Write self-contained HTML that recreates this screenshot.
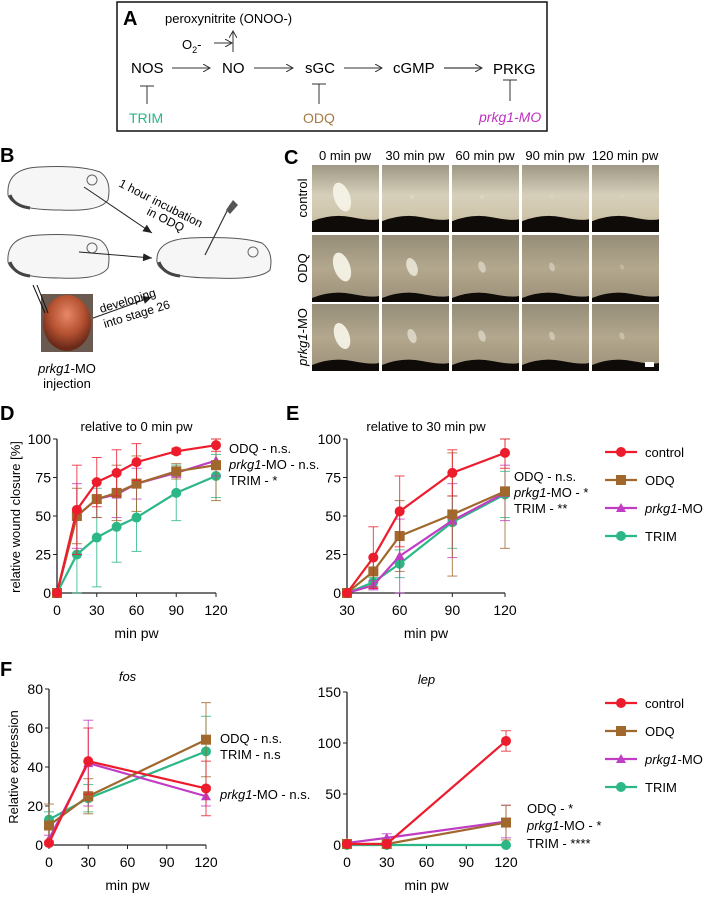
<!DOCTYPE html>
<html><head><meta charset="utf-8">
<style>
html,body{margin:0;padding:0;background:#fff;}
svg{display:block;font-family:"Liberation Sans",Arial,sans-serif;}
</style></head>
<body>
<svg id="fig" width="707" height="897" viewBox="0 0 707 897" xmlns="http://www.w3.org/2000/svg">
<defs>
<marker id="arr" markerWidth="8" markerHeight="8" refX="7" refY="4" orient="auto" markerUnits="userSpaceOnUse"><path d="M0,0 L7,4 L0,8" fill="none" stroke="#333" stroke-width="1"/></marker>
<marker id="arrf" markerWidth="10" markerHeight="8" refX="9" refY="4" orient="auto" markerUnits="userSpaceOnUse"><path d="M0,0 L9,4 L0,8 Z" fill="#222"/></marker>
<linearGradient id="tis" x1="0" y1="0" x2="0" y2="1"><stop offset="0" stop-color="#9d9885"/><stop offset="0.45" stop-color="#d6cfba"/><stop offset="0.75" stop-color="#cfc6ac"/><stop offset="1" stop-color="#b8ad92"/></linearGradient>
<linearGradient id="tis2" x1="0" y1="0" x2="0" y2="1"><stop offset="0" stop-color="#958d78"/><stop offset="0.5" stop-color="#b3a88e"/><stop offset="1" stop-color="#9c9078"/></linearGradient>
<radialGradient id="egg" cx="0.5" cy="0.35" r="0.6"><stop offset="0" stop-color="#e8876a"/><stop offset="0.6" stop-color="#b2502f"/><stop offset="1" stop-color="#6a2a1a"/></radialGradient>
</defs>

<!-- Panel A -->
<g>
<rect x="117" y="2" width="430" height="129" fill="none" stroke="#111" stroke-width="1.5"/>
<text x="123" y="25" font-size="20" font-weight="bold">A</text>
<text x="165" y="23" font-size="13">peroxynitrite (ONOO-)</text>
<text x="182" y="49" font-size="13">O<tspan font-size="9" dy="4">2</tspan><tspan dy="-4">-</tspan></text>
<line x1="214" y1="43" x2="232" y2="43" stroke="#333" marker-end="url(#arr)"/>
<line x1="233" y1="52" x2="233" y2="31" stroke="#333" marker-end="url(#arr)"/>
<text x="131" y="73" font-size="15">NOS</text>
<text x="222" y="73" font-size="15">NO</text>
<text x="305" y="73" font-size="15">sGC</text>
<text x="393" y="73" font-size="15">cGMP</text>
<text x="493" y="74" font-size="15">PRKG</text>
<line x1="172" y1="68" x2="210" y2="68" stroke="#333" marker-end="url(#arr)"/>
<line x1="254" y1="68" x2="293" y2="68" stroke="#333" marker-end="url(#arr)"/>
<line x1="344" y1="68" x2="382" y2="68" stroke="#333" marker-end="url(#arr)"/>
<line x1="444" y1="68" x2="482" y2="68" stroke="#111" marker-end="url(#arr)"/>
<g stroke="#333"><line x1="147" y1="86" x2="147" y2="104"/><line x1="140" y1="86" x2="154" y2="86"/>
<line x1="319" y1="84" x2="319" y2="104"/><line x1="312" y1="84" x2="326" y2="84"/>
<line x1="510" y1="80" x2="510" y2="101"/><line x1="503" y1="80" x2="517" y2="80"/></g>
<text x="129" y="123" font-size="14" fill="#2bb583">TRIM</text>
<text x="303" y="123" font-size="14" fill="#a57b45">ODQ</text>
<text x="479" y="122" font-size="14" fill="#c030c0" font-style="italic">prkg1-MO</text>
</g>

<!-- Panel B -->
<g>
<text x="0" y="162" font-size="20" font-weight="bold">B</text>
<g fill="#f6f6f6" stroke="#555" stroke-width="1">
<path d="M8,195 Q6,168 40,167 Q80,165 100,172 Q112,180 108,200 Q100,212 60,210 Q12,210 8,195 Z"/>
<path d="M8,262 Q6,236 40,235 Q80,233 100,240 Q112,248 108,268 Q100,280 60,278 Q12,278 8,262 Z"/>
<path d="M157,262 Q155,240 190,238 Q240,236 262,243 Q274,252 270,270 Q260,280 215,278 Q160,278 157,262 Z"/>
</g>
<g fill="none" stroke="#666"><circle cx="92" cy="180" r="5"/><circle cx="92" cy="248" r="5"/><circle cx="253" cy="252" r="5"/>
<path d="M10,195 Q14,206 30,208" stroke="#444" stroke-width="3"/><path d="M10,262 Q14,274 30,276" stroke="#444" stroke-width="3"/><path d="M159,262 Q163,274 180,276" stroke="#444" stroke-width="3"/></g>
<line x1="205" y1="255" x2="230" y2="205" stroke="#333" stroke-width="1.2"/>
<path d="M226,210 L233,200 L238,205 L230,214 Z" fill="#555"/>
<line x1="84" y1="187" x2="152" y2="233" stroke="#222" marker-end="url(#arrf)"/>
<line x1="79" y1="252" x2="152" y2="258" stroke="#222" marker-end="url(#arrf)"/>
<line x1="82" y1="322" x2="152" y2="297" stroke="#222" marker-end="url(#arrf)"/>
<text transform="translate(118,186) rotate(27)" font-size="12">1 hour incubation</text>
<text transform="translate(146,214) rotate(27)" font-size="12">in ODQ</text>
<text transform="translate(101,313) rotate(-17)" font-size="12">developing</text>
<text transform="translate(105,328) rotate(-17)" font-size="12">into stage 26</text>
<rect x="41" y="294" width="52" height="58" fill="#6a5a50"/>
<ellipse cx="67" cy="323" rx="24" ry="28" fill="url(#egg)"/>
<line x1="33" y1="285" x2="45" y2="313" stroke="#111"/><line x1="37" y1="285" x2="48" y2="313" stroke="#111"/>
<text x="67" y="373" font-size="13" text-anchor="middle"><tspan font-style="italic">prkg1</tspan>-MO</text>
<text x="67" y="388" font-size="13" text-anchor="middle">injection</text>
</g>

<!-- Panel C -->
<g id="panelC">
<text x="284" y="164" font-size="20" font-weight="bold">C</text>
</g>

<!-- Charts -->
<g id="charts"></g>
</svg>
<script>
// ---------- data ----------
const seriesNames = ["control","ODQ","prkg1-MO","TRIM"];
const dX = [0,15,30,45,60,90,120];
const dControl = [0,54,72,78,85,92,96];
const dODQ = [0,50,61,65,71,79,83];
const dPrkg = [0,50,61,64,71,78,86];
const dTRIM = [0,25,36,43,49,65,76];
const dErrControl = [0,29,16,15,12,2,4];
const dErrODQ = [0,18,12,18,18,5,23];
const dErrPrkg = [0,21,12,15,10,3,10];
const dErrTRIM = [0,25,32,23,22,18,14];
const dTicks = [0,25,50,75,100];
const dXTicks = [0,30,60,90,120];

const eX = [30,45,60,90,120];
const eControl = [0,23,53,78,91];
const eODQ = [0,14,37,51,66];
const ePrkg = [0,5,24,47,65];
const eTRIM = [0,7,19,46,64];
const eErrControl = [0,20,23,15,10];
const eErrODQ = [0,10,23,40,37];
const eErrPrkg = [0,3,24,24,18];
const eErrTRIM = [0,3,9,17,15];
const eXTicks = [30,60,90,120];

const fX = [0,30,120];
const fosControl = [1,43,29];
const fosODQ = [10,25,54];
const fosPrkg = [3,42,25];
const fosTRIM = [13,24,48];
const fosErrControl = [1,17,14];
const fosErrODQ = [11,9,19];
const fosErrPrkg = [2,22,5];
const fosErrTRIM = [4,7,18];
const fosTicks = [0,20,40,60,80];
const lepControl = [1,1,102];
const lepODQ = [1,1,22];
const lepPrkg = [2,7,23];
const lepTRIM = [0,0,0];
const lepErrControl = [1,1,10];
const lepErrODQ = [3,1,17];
const lepErrPrkg = [1,4,16];
const lepErrTRIM = [0,0,0];
const lepTicks = [0,50,100,150];
const fXTicks = [0,30,60,90,120];

const colors = ["#ec1c2c","#a0682c","#c03cc4","#2cb886"];
const shapes = ["circle","square","triangle","circle"];

const NS = "http://www.w3.org/2000/svg";
const root = document.getElementById("charts");
function el(tag, attrs, parent, text){
  const e = document.createElementNS(NS, tag);
  for (const k in attrs) e.setAttribute(k, attrs[k]);
  if (text !== undefined) e.textContent = text;
  (parent||root).appendChild(e);
  return e;
}
function marker(g, shape, x, y, c){
  let m;
  if (shape==="circle") m = el("circle",{cx:x,cy:y,r:5,fill:c},g);
  else if (shape==="square") m = el("rect",{x:x-5,y:y-5,width:10,height:10,fill:c},g);
  else m = el("path",{d:`M${x},${y-5} L${x+5},${y+4} L${x-5},${y+4} Z`,fill:c},g);
  return m;
}
function chart(cfg){
  const g = el("g",{});
  
  
  const sx = v => cfg.x0 + (v-cfg.xmin)/(cfg.xmax-cfg.xmin)*(cfg.x1-cfg.x0);
  const sy = v => cfg.y0 - (v-cfg.ymin)/(cfg.ymax-cfg.ymin)*(cfg.y0-cfg.y1);
  const ax = el("path",{d:`M${cfg.x0},${cfg.y1} V${cfg.y0} H${cfg.x1}`,fill:"none",stroke:"#222","stroke-width":1.3},g);
  
  
  cfg.yTicks.forEach(t=>{
    el("line",{x1:cfg.x0-4,x2:cfg.x0,y1:sy(t),y2:sy(t),stroke:"#222"},g);
    const lb = el("text",{x:cfg.x0-6,y:sy(t)+5,"font-size":14,"text-anchor":"end"},g,String(t));
    
    
  });
  cfg.xTicks.forEach(t=>{
    el("line",{x1:sx(t),x2:sx(t),y1:cfg.y0,y2:cfg.y0+4,stroke:"#222"},g);
    const lb = el("text",{x:sx(t),y:cfg.y0+22,"font-size":14,"text-anchor":"middle"},g,String(t));
    
    
  });
  const xl = el("text",{x:(cfg.x0+cfg.x1)/2,y:cfg.y0+45,"font-size":14,"text-anchor":"middle"},g,"min pw");
  
  
  if (cfg.title){
    const t = el("text",{x:(cfg.x0+cfg.x1)/2,y:cfg.y1-8,"font-size":13,"text-anchor":"middle","font-style":cfg.titleItalic?"italic":"normal"},g,cfg.title);
    
    
  }
  for (let s=cfg.series.length-1; s>=0; s--){
    const vals = cfg.series[s], errs = cfg.errs[s], c = colors[s];
    const sg = el("g",{},g);
    
    
    vals.forEach((v,i)=>{
      const e = errs[i]; if (!e) return;
      const x = sx(cfg.xs[i]);
      el("line",{x1:x,x2:x,y1:sy(Math.min(cfg.ymax,v+e)),y2:sy(Math.max(cfg.ymin,v-e)),stroke:c,"stroke-width":1,opacity:0.8},sg);
      el("line",{x1:x-5,x2:x+5,y1:sy(Math.min(cfg.ymax,v+e)),y2:sy(Math.min(cfg.ymax,v+e)),stroke:c,opacity:0.8},sg);
      el("line",{x1:x-5,x2:x+5,y1:sy(Math.max(cfg.ymin,v-e)),y2:sy(Math.max(cfg.ymin,v-e)),stroke:c,opacity:0.8},sg);
    });
    const pts = vals.map((v,i)=>`${sx(cfg.xs[i])},${sy(v)}`).join(" ");
    const ln = el("polyline",{points:pts,fill:"none",stroke:c,"stroke-width":2.2},sg);
    
    
    vals.forEach((v,i)=>{
      const m = marker(sg, shapes[s], sx(cfg.xs[i]), sy(v), c);
      
      
    });
  }
  (cfg.notes||[]).forEach(n=>{
    const t = el("text",{x:n[0],y:n[1],"font-size":13},g);
    
    
    if (n[3]) { el("tspan",{"font-style":"italic"},t,n[3]); el("tspan",{},t,n[2]); }
    else t.textContent = n[2];
  });
  return g;
}

chart({name:"chart-d-relative-0",x0:57,x1:216,y0:593,y1:439,xmin:0,xmax:120,ymin:0,ymax:100,
  xs:dX,series:[dControl,dODQ,dPrkg,dTRIM],errs:[dErrControl,dErrODQ,dErrPrkg,dErrTRIM],
  yTicks:dTicks,xTicks:dXTicks,title:"relative to 0 min pw",
  notes:[[229,453,"ODQ - n.s."],[229,469,"-MO - n.s.","prkg1"],[229,485,"TRIM - *"]]});
chart({name:"chart-e-relative-30",x0:347,x1:505,y0:593,y1:439,xmin:30,xmax:120,ymin:0,ymax:100,
  xs:eX,series:[eControl,eODQ,ePrkg,eTRIM],errs:[eErrControl,eErrODQ,eErrPrkg,eErrTRIM],
  yTicks:dTicks,xTicks:eXTicks,title:"relative to 30 min pw",
  notes:[[514,481,"ODQ - n.s."],[514,497,"-MO - *","prkg1"],[514,513,"TRIM - **"]]});
chart({name:"chart-f-fos",x0:49,x1:206,y0:845,y1:689,xmin:0,xmax:120,ymin:0,ymax:80,
  xs:fX,series:[fosControl,fosODQ,fosPrkg,fosTRIM],errs:[fosErrControl,fosErrODQ,fosErrPrkg,fosErrTRIM],
  yTicks:fosTicks,xTicks:fXTicks,title:"fos",titleItalic:true,
  notes:[[220,743,"ODQ - n.s."],[220,759,"TRIM - n.s"],[220,799,"-MO - n.s.","prkg1"]]});
chart({name:"chart-f-lep",x0:347,x1:506,y0:845,y1:692,xmin:0,xmax:120,ymin:0,ymax:150,
  xs:fX,series:[lepControl,lepODQ,lepPrkg,lepTRIM],errs:[lepErrControl,lepErrODQ,lepErrPrkg,lepErrTRIM],
  yTicks:lepTicks,xTicks:fXTicks,title:"lep",titleItalic:true,
  notes:[[527,813,"ODQ - *"],[527,830,"-MO - *","prkg1"],[527,848,"TRIM - ****"]]});

[["D",0,420],["E",286,420],["F",0,676]].forEach(p=>{
  const t = el("text",{x:p[1],y:p[2],"font-size":20,"font-weight":"bold"},root,p[0]);
  
  
});
const yt1 = el("text",{transform:"translate(20,517) rotate(-90)","font-size":13,"text-anchor":"middle"},root,"relative wound closure [%]");


const yt2 = el("text",{transform:"translate(18,767) rotate(-90)","font-size":13,"text-anchor":"middle"},root,"Relative expression");



function legend(y0, name){
  const g = el("g",{});
  
  
  seriesNames.forEach((n,i)=>{
    const y = y0 + i*28;
    const eg = el("g",{},g);
    
    
    el("line",{x1:605,x2:637,y1:y,y2:y,stroke:colors[i],"stroke-width":2.2},eg);
    marker(eg, shapes[i], 621, y, colors[i]);
    const t = el("text",{x:645,y:y+5,"font-size":13},eg);
    if (n==="prkg1-MO"){ el("tspan",{"font-style":"italic"},t,"prkg1"); el("tspan",{},t,"-MO"); }
    else t.textContent = n;
  });
}
legend(452,"legend-e");
legend(703,"legend-f");

// panel C images
const pc = document.getElementById("panelC");
const colX = [312,382,452,522,592];
const rowY = [165,235,304];
const colLabels = ["0 min pw","30 min pw","60 min pw","90 min pw","120 min pw"];
const rowLabels = ["control","ODQ","prkg1-MO"];
const woundSize = [[1,0.1,0.08,0.05,0.03],[1,0.6,0.35,0.25,0.12],[0.9,0.45,0.35,0.25,0.2]];
const darkTop = [0.78,0.88,0.85];
colLabels.forEach((l,i)=>{
  const t = el("text",{x:colX[i]+33,y:160,"font-size":13,"text-anchor":"middle"},pc,l);
  
  
});
rowLabels.forEach((l,r)=>{
  const t = el("text",{transform:`translate(${307},${rowY[r]+33}) rotate(-90)`,"font-size":13,"text-anchor":"middle"},pc);
  
  
  if (l==="prkg1-MO"){ el("tspan",{"font-style":"italic"},t,"prkg1"); el("tspan",{},t,"-MO"); } else t.textContent=l;
  colX.forEach((x,c)=>{
    const y = rowY[r];
    const im = el("rect",{x:x,y:y,width:67,height:67,fill:r===0?"url(#tis)":"url(#tis2)"},pc);
    
    
    const dy = y + 67*darkTop[r];
    el("path",{d:`M${x},${dy+4} Q${x+20},${dy-4} ${x+40},${dy} T${x+67},${dy+2} V${y+67} H${x} Z`,fill:"#0e0b08"},pc);
    const s = woundSize[r][c];
    el("ellipse",{cx:x+30,cy:y+32,rx:7*s+1,ry:14*s+1,fill:"#f4f2e6",opacity:Math.min(0.95,s+0.15),transform:`rotate(-20 ${x+30} ${y+32})`},pc);
  });
});
el("rect",{x:645,y:362,width:9,height:5,fill:"#fff"},pc);
</script>
</body></html>
